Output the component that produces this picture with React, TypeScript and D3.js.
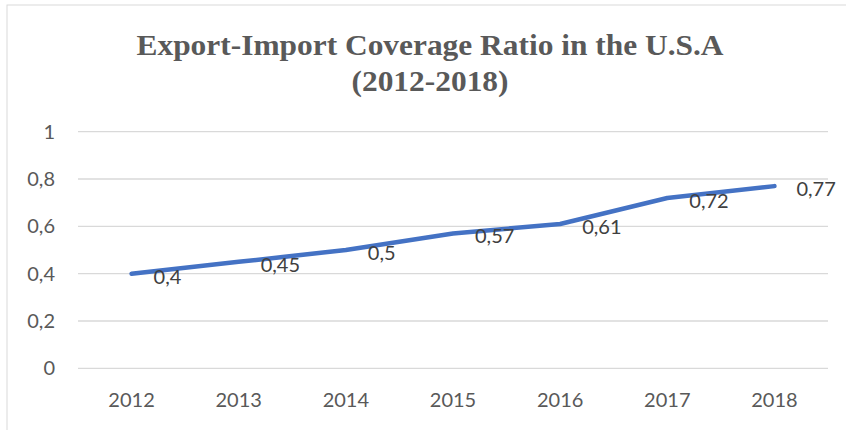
import React from "react";
import * as d3 from "d3";

const categories = ["2012", "2013", "2014", "2015", "2016", "2017", "2018"];
const values = [0.4, 0.45, 0.5, 0.57, 0.61, 0.72, 0.77];
const yTicks = [0, 0.2, 0.4, 0.6, 0.8, 1];
const titleLines = ["Export-Import Coverage Ratio in the U.S.A", "(2012-2018)"];

const W = 846;
const H = 430;
const plot = { left: 78, right: 828, top: 131.7, bottom: 368.3 };
const fmt = (v: number) => String(v).replace(".", ",");
const textColor = "#595959";
const font = "Lato, 'Open Sans', sans-serif";
const titleWidths = [587, 157];

export default function App() {
  const x = d3.scaleBand().domain(categories).range([plot.left, plot.right]);
  const y = d3.scaleLinear().domain([0, 1]).range([plot.bottom, plot.top]);
  const cx = (c: string) => (x(c) ?? 0) + x.bandwidth() / 2;
  const pts: [number, number][] = categories.map((c, i) => [cx(c), y(values[i])]);
  const line = d3.line()(pts) ?? "";

  return (
    <svg
      width={W}
      height={H}
      style={{ position: "absolute", left: 0, top: 0, background: "#fff" }}
    >
      <rect x={7} y={5} width={W} height={H} fill="#fff" stroke="#D9D9D9" strokeWidth={1} />
      {titleLines.map((t, i) => (
        <text
          key={t}
          x={430}
          y={55 + i * 36}
          textAnchor="middle"
          fontFamily="'Liberation Serif', 'Times New Roman', serif"
          fontWeight="bold"
          fontSize={29.5}
          textLength={titleWidths[i]}
          lengthAdjust="spacingAndGlyphs"
          fill={textColor}
        >
          {t}
        </text>
      ))}
      {yTicks.map((t) => (
        <g key={t}>
          <line x1={plot.left} x2={plot.right} y1={y(t)} y2={y(t)} stroke="#D9D9D9" strokeWidth={1.3} />
          <text
            x={55}
            y={y(t)}
            dy="0.35em"
            textAnchor="end"
            fontFamily={font}
            fontSize={20}
            fill={textColor}
          >
            {fmt(t)}
          </text>
        </g>
      ))}
      {categories.map((c) => (
        <text
          key={c}
          x={cx(c)}
          y={400}
          dy="0.35em"
          textAnchor="middle"
          fontFamily={font}
          fontSize={20}
          fill={textColor}
        >
          {c}
        </text>
      ))}
      <path d={line} fill="none" stroke="#4472C4" strokeWidth={4.5} strokeLinecap="round" strokeLinejoin="round" />
      {pts.map(([px, py], i) => (
        <text
          key={i}
          x={px + 22}
          y={py + 3}
          dy="0.35em"
          fontFamily={font}
          fontSize={20}
          fill="#404040"
        >
          {fmt(values[i])}
        </text>
      ))}
    </svg>
  );
}
